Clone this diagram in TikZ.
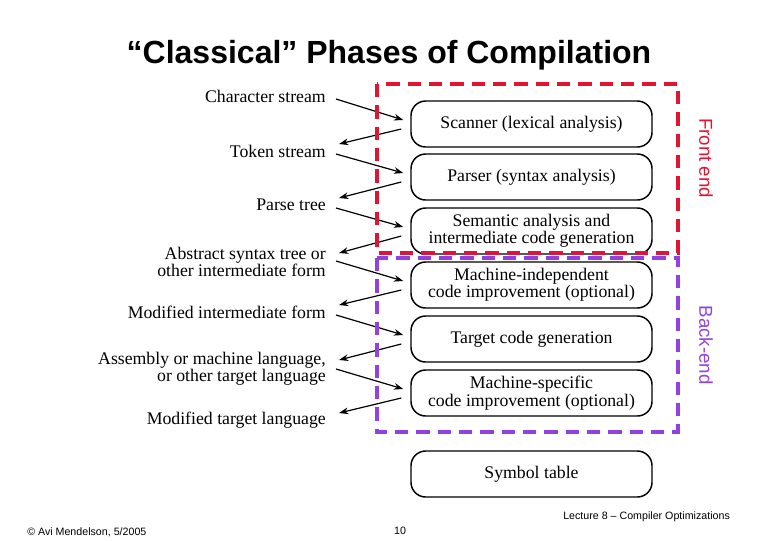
\documentclass[tikz,border=0pt]{standalone}
\usepackage{fontspec}
\setmainfont{Liberation Serif}
\newfontfamily\arialfont{Liberation Sans}
\usetikzlibrary{arrows.meta}
\definecolor{frontred}{RGB}{225,20,50}
\definecolor{backpurple}{RGB}{145,65,225}

\begin{document}
\begin{tikzpicture}[x=0.75pt, y=-0.75pt,
	phase/.style={draw, line width=1.1pt, rounded corners=11pt, minimum width=180.75pt,
		minimum height=34.5pt, inner sep=0pt, align=center, font=\fontsize{13.3}{13}\selectfont},
	form/.style={anchor=east, inner sep=0pt, align=right, font=\fontsize{13.3}{13}\selectfont},
	flow/.style={-{Stealth[length=7pt, width=5pt]}, line width=0.9pt},
	endframe/.style={line width=3pt, dash pattern=on 10pt off 6pt},
	endlabel/.style={rotate=-90, font=\arialfont\fontsize{14}{14}\selectfont},
	footer/.style={inner sep=0pt, font=\arialfont\fontsize{8}{8}\selectfont}]

	\useasboundingbox (0,0) rectangle (780,540);

	\node[font=\arialfont\bfseries\fontsize{24}{24}\selectfont] (title) at (389,55) {“Classical” Phases of Compilation};

	% phases
	\node[phase] (scan) at (531.5,124) {Scanner (lexical analysis)};
	\node[phase] (parse) at (531.5,177) {Parser (syntax analysis)};
	\node[phase] (sem) at (531.5,231) {Semantic analysis and\\intermediate code generation};
	\node[phase] (mindep) at (531.5,285) {Machine-independent\\code improvement (optional)};
	\node[phase] (tgen) at (531.5,339) {Target code generation};
	\node[phase] (mspec) at (531.5,393) {Machine-specific\\code improvement (optional)};
	\node[phase] (symtab) at (531.5,474) {Symbol table};

	% forms
	\node[form] (chars) at (326,96) {Character stream};
	\node[form] (tokens) at (326,151) {Token stream};
	\node[form] (ptree) at (326,205) {Parse tree};
	\node[form] (ast) at (326,262) {Abstract syntax tree or\\other intermediate form};
	\node[form] (mir) at (326,312) {Modified intermediate form};
	\node[form] (asm) at (326,369) {Assembly or machine language,\\or other target language};
	\node[form] (tgt) at (326,420) {Modified target language};

	\draw[flow] ([shift={(10,3)}]chars.east) -- ([shift={(-7,-4)}]scan.west);
	\draw[flow] ([shift={(-9,5)}]scan.west) -- ([shift={(13,-7)}]tokens.east);
	\draw[flow] ([shift={(10,3)}]tokens.east) -- ([shift={(-7,-4)}]parse.west);
	\draw[flow] ([shift={(-9,5)}]parse.west) -- ([shift={(13,-7)}]ptree.east);
	\draw[flow] ([shift={(10,3)}]ptree.east) -- ([shift={(-7,-4)}]sem.west);
	\draw[flow] ([shift={(-9,5)}]sem.west) -- ([shift={(13,-9)}]ast.east);
	\draw[flow] ([shift={(10,-1)}]ast.east) -- ([shift={(-7,-4)}]mindep.west);
	\draw[flow] ([shift={(-9,5)}]mindep.west) -- ([shift={(13,-7)}]mir.east);
	\draw[flow] ([shift={(10,3)}]mir.east) -- ([shift={(-7,-4)}]tgen.west);
	\draw[flow] ([shift={(-9,5)}]tgen.west) -- ([shift={(13,-9)}]asm.east);
	\draw[flow] ([shift={(10,0)}]asm.east) -- ([shift={(-7,-4)}]mspec.west);
	\draw[flow] ([shift={(-9,5)}]mspec.west) -- ([shift={(13,-7)}]tgt.east);

	% front end / back end
	\draw[frontred, endframe] (377,84) rectangle (678,253);
	\draw[backpurple, endframe] (377,258) rectangle (678,432);
	\node[endlabel, text=frontred] (front) at (706,158) {Front end};
	\node[endlabel, text=backpurple] (back) at (706,345) {Back-end};

	\node[footer, anchor=west] (lecture) at (563,517) {Lecture 8 – Compiler Optimizations};
	\node[footer, anchor=west] (copy) at (27,532) {© Avi Mendelson, 5/2005};
	\node[footer] (page) at (400,531) {10};

\end{tikzpicture}
\end{document}
